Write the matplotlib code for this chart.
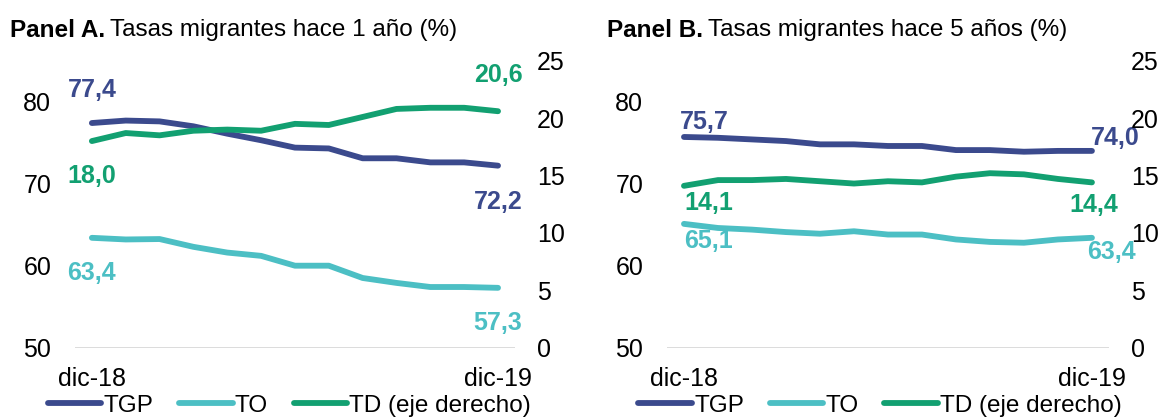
import matplotlib
matplotlib.use('Agg')
from matplotlib import pyplot as plt

plt.rcParams['font.family'] = ['Liberation Sans', 'DejaVu Sans']

meses = ['dic-18', 'ene-19', 'feb-19', 'mar-19', 'abr-19', 'may-19', 'jun-19',
         'jul-19', 'ago-19', 'sep-19', 'oct-19', 'nov-19', 'dic-19']

# Panel A: hace 1 año
tgp_a = [77.4, 77.7, 77.6, 77.0, 76.1, 75.3, 74.4, 74.3, 73.1, 73.1, 72.6, 72.6, 72.2]
to_a = [63.4, 63.2, 63.25, 62.3, 61.6, 61.2, 60.0, 60.0, 58.5, 57.9, 57.4, 57.4, 57.3]
td_a = [18.0, 18.7, 18.5, 18.9, 19.0, 18.9, 19.5, 19.4, 20.1, 20.8, 20.9, 20.9, 20.6]

# Panel B: hace 5 años
tgp_b = [75.7, 75.6, 75.4, 75.2, 74.8, 74.8, 74.6, 74.6, 74.1, 74.1, 73.9, 74.0, 74.0]
to_b = [65.1, 64.6, 64.4, 64.1, 63.9, 64.2, 63.8, 63.8, 63.2, 62.9, 62.8, 63.2, 63.4]
td_b = [14.1, 14.6, 14.6, 14.7, 14.5, 14.3, 14.5, 14.4, 14.9, 15.2, 15.1, 14.7, 14.4]

c_tgp = '#3B4A8D'
c_to = '#4CBFC4'
c_td = '#12A071'
lw = 4.2

fig = plt.figure(figsize=(11.64, 4.19), dpi=100)


def fmt(v):
    return f'{v:.1f}'.replace('.', ',')


def panel(rect, tgp, to, td, offs, legend_x):
    ax = fig.add_axes(rect)
    ax2 = ax.twinx()
    x = list(range(len(meses)))
    l1, = ax.plot(x, tgp, color=c_tgp, lw=lw, solid_capstyle='round')
    l2, = ax.plot(x, to, color=c_to, lw=lw, solid_capstyle='round')
    l3, = ax2.plot(x, td, color=c_td, lw=lw, solid_capstyle='round')
    ax.set_xlim(-0.5, len(meses) - 0.5)
    ax.set_ylim(50, 85)
    ax2.set_ylim(0, 25)
    ax.set_yticks([50, 60, 70, 80])
    ax2.set_yticks([0, 5, 10, 15, 20, 25])
    ax.set_xticks(x)
    ax.set_xticklabels([m if i in (0, len(meses) - 1) else '' for i, m in enumerate(meses)])
    for a in (ax, ax2):
        for s in a.spines.values():
            s.set_visible(False)
        a.tick_params(length=0, labelsize=18)
    ax.tick_params(axis='y', pad=17)
    ax2.tick_params(axis='y', pad=16)
    ax.tick_params(axis='x', pad=14)
    ax.axhline(50, color='#D9D9D9', lw=1.3, zorder=0)

    # etiquetas de datos (inicio y fin)
    series = [(ax, tgp, c_tgp), (ax, to, c_to), (ax2, td, c_td)]
    for (a, vals, col), (o0, o1) in zip(series, offs):
        for i, o in ((0, o0), (len(vals) - 1, o1)):
            a.annotate(fmt(vals[i]), xy=(i, vals[i]), xytext=o,
                       textcoords='offset points', ha='center', va='center',
                       fontsize=18, fontweight='bold', color=col)

    fig.legend([l1, l2, l3], ['TGP', 'TO', 'TD (eje derecho)'],
               loc='center', bbox_to_anchor=(legend_x, 0.032), ncol=3,
               frameon=False, fontsize=17.5, handlelength=2.2,
               handletextpad=0.1, columnspacing=1.05, borderpad=0)
    return ax


offs_a = [((0, 24), (0, -26)), ((0, -25), (0, -25)), ((0, -25), (0, 26))]
offs_b = [((15, 11), (17, 9)), ((18, -12), (14, -10)), ((18, -12), (1, -16))]

panel([0.0644, 0.1702, 0.378, 0.6849], tgp_a, to_a, td_a, offs_a, 0.2487)
panel([0.5730, 0.1702, 0.3797, 0.6849], tgp_b, to_b, td_b, offs_b, 0.756)


def title(xf, bold, rest):
    t = fig.text(xf, 0.928, bold, fontsize=17.5, fontweight='bold', va='center', ha='left')
    r = fig.canvas.get_renderer()
    bb = t.get_window_extent(renderer=r)
    x2 = (bb.x1 + 5) / fig.bbox.width
    fig.text(x2, 0.928, rest, fontsize=17.5, va='center', ha='left')


title(0.0086, 'Panel A.', 'Tasas migrantes hace 1 año (%)')
title(0.5215, 'Panel B.', 'Tasas migrantes hace 5 años (%)')

fig.savefig('out.png', dpi=100)
